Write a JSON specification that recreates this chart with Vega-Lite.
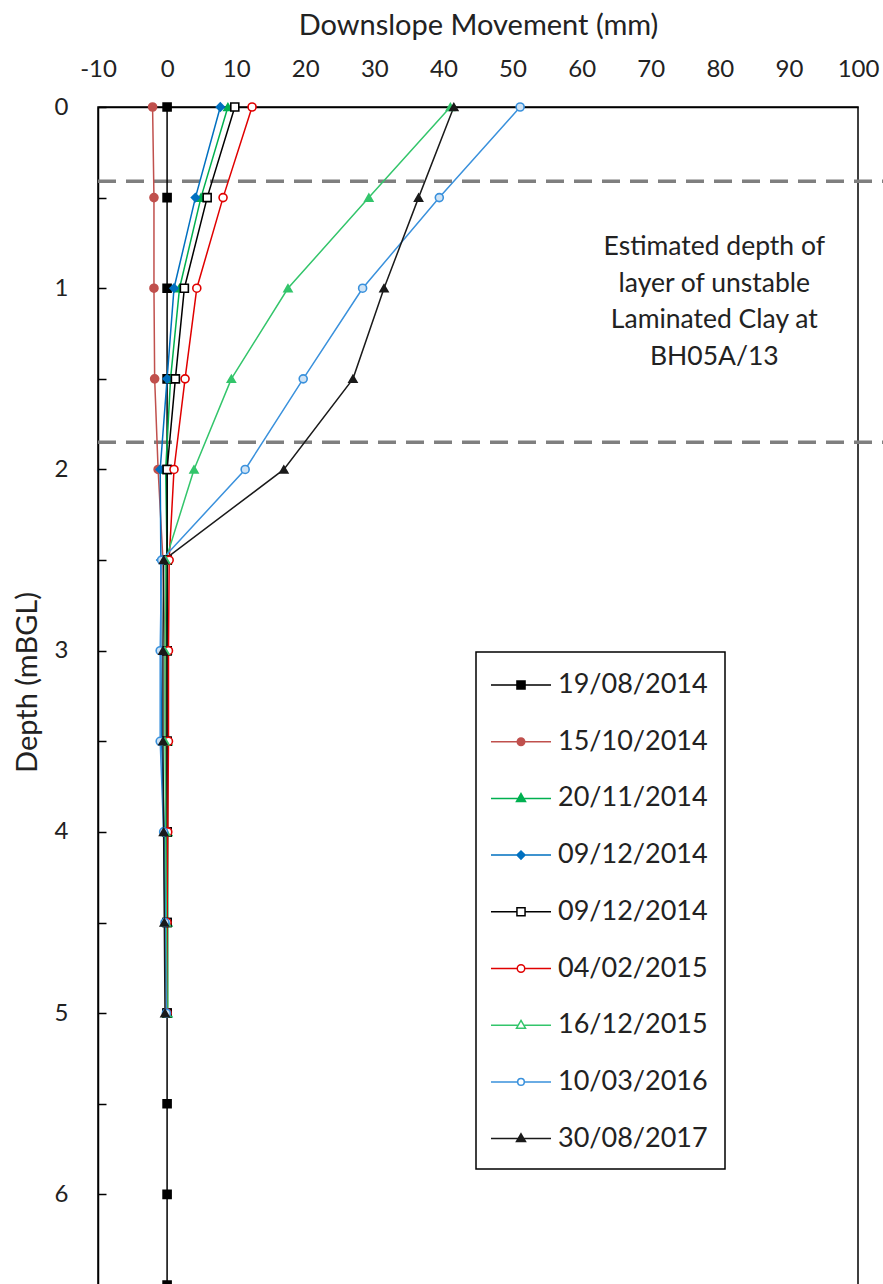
{
  "$schema": "https://vega.github.io/schema/vega-lite/v6.json",
  "autosize": {"type": "none"},
  "padding": {"left": 98, "top": 107, "right": 25, "bottom": 0},
  "width": 760,
  "height": 1178,
  "config": {
    "font": "Lato",
    "view": {"stroke": "#000000", "strokeWidth": 1.5},
    "axis": {"grid": false, "domainColor": "#000000", "domainWidth": 1.5, "tickColor": "#000000", "tickWidth": 1.5, "labelColor": "#222222", "titleColor": "#222222", "labelFont": "Lato", "titleFont": "Lato", "titleFontWeight": "normal"},
    "legend": {"padding": 17, "symbolSize": 900, "symbolStrokeWidth": 1.5, "symbolOffset": 12, "labelOffset": 21, "labelFontSize": 27, "labelColor": "#222222", "labelFont": "Lato", "strokeColor": "#000000", "strokeWidth": 1.5, "fillColor": "#ffffff", "rowPadding": 27.7, "symbolOpacity": 1, "labelLimit": 400}
  },
  "datasets": {
    "prof": [
      {"series": "19/08/2014", "depth": 0, "mm": 0},
      {"series": "19/08/2014", "depth": 0.5, "mm": 0},
      {"series": "19/08/2014", "depth": 1, "mm": 0},
      {"series": "19/08/2014", "depth": 1.5, "mm": 0},
      {"series": "19/08/2014", "depth": 2, "mm": 0},
      {"series": "19/08/2014", "depth": 2.5, "mm": 0},
      {"series": "19/08/2014", "depth": 3, "mm": 0},
      {"series": "19/08/2014", "depth": 3.5, "mm": 0},
      {"series": "19/08/2014", "depth": 4, "mm": 0},
      {"series": "19/08/2014", "depth": 4.5, "mm": 0},
      {"series": "19/08/2014", "depth": 5, "mm": 0},
      {"series": "19/08/2014", "depth": 5.5, "mm": 0},
      {"series": "19/08/2014", "depth": 6, "mm": 0},
      {"series": "19/08/2014", "depth": 6.5, "mm": 0},
      {"series": "15/10/2014", "depth": 0, "mm": -2.1},
      {"series": "15/10/2014", "depth": 0.5, "mm": -1.9},
      {"series": "15/10/2014", "depth": 1, "mm": -1.9},
      {"series": "15/10/2014", "depth": 1.5, "mm": -1.8},
      {"series": "15/10/2014", "depth": 2, "mm": -1.3},
      {"series": "15/10/2014", "depth": 2.5, "mm": -0.6},
      {"series": "15/10/2014", "depth": 3, "mm": -0.3},
      {"series": "15/10/2014", "depth": 3.5, "mm": -0.2},
      {"series": "15/10/2014", "depth": 4, "mm": -0.1},
      {"series": "15/10/2014", "depth": 4.5, "mm": -0.1},
      {"series": "15/10/2014", "depth": 5, "mm": 0},
      {"series": "20/11/2014", "depth": 0, "mm": 8.8},
      {"series": "20/11/2014", "depth": 0.5, "mm": 4.9},
      {"series": "20/11/2014", "depth": 1, "mm": 1.8},
      {"series": "20/11/2014", "depth": 1.5, "mm": 0.5},
      {"series": "20/11/2014", "depth": 2, "mm": -0.2},
      {"series": "20/11/2014", "depth": 2.5, "mm": 0},
      {"series": "20/11/2014", "depth": 3, "mm": 0},
      {"series": "20/11/2014", "depth": 3.5, "mm": 0.1},
      {"series": "20/11/2014", "depth": 4, "mm": 0.1},
      {"series": "20/11/2014", "depth": 4.5, "mm": 0.1},
      {"series": "20/11/2014", "depth": 5, "mm": 0.1},
      {"series": "09/12/2014 #1", "depth": 0, "mm": 7.7},
      {"series": "09/12/2014 #1", "depth": 0.5, "mm": 4.1},
      {"series": "09/12/2014 #1", "depth": 1, "mm": 1.0},
      {"series": "09/12/2014 #1", "depth": 1.5, "mm": 0.0},
      {"series": "09/12/2014 #1", "depth": 2, "mm": -1.0},
      {"series": "09/12/2014 #1", "depth": 2.5, "mm": -0.9},
      {"series": "09/12/2014 #1", "depth": 3, "mm": -0.9},
      {"series": "09/12/2014 #1", "depth": 3.5, "mm": -0.8},
      {"series": "09/12/2014 #1", "depth": 4, "mm": -0.4},
      {"series": "09/12/2014 #1", "depth": 4.5, "mm": -0.2},
      {"series": "09/12/2014 #1", "depth": 5, "mm": 0},
      {"series": "09/12/2014 #2", "depth": 0, "mm": 9.8},
      {"series": "09/12/2014 #2", "depth": 0.5, "mm": 5.8},
      {"series": "09/12/2014 #2", "depth": 1, "mm": 2.5},
      {"series": "09/12/2014 #2", "depth": 1.5, "mm": 1.2},
      {"series": "09/12/2014 #2", "depth": 2, "mm": 0.0},
      {"series": "09/12/2014 #2", "depth": 2.5, "mm": 0},
      {"series": "09/12/2014 #2", "depth": 3, "mm": 0},
      {"series": "09/12/2014 #2", "depth": 3.5, "mm": 0},
      {"series": "09/12/2014 #2", "depth": 4, "mm": 0},
      {"series": "09/12/2014 #2", "depth": 4.5, "mm": 0},
      {"series": "09/12/2014 #2", "depth": 5, "mm": 0},
      {"series": "04/02/2015", "depth": 0, "mm": 12.3},
      {"series": "04/02/2015", "depth": 0.5, "mm": 8.1},
      {"series": "04/02/2015", "depth": 1, "mm": 4.3},
      {"series": "04/02/2015", "depth": 1.5, "mm": 2.6},
      {"series": "04/02/2015", "depth": 2, "mm": 1.0},
      {"series": "04/02/2015", "depth": 2.5, "mm": 0.3},
      {"series": "04/02/2015", "depth": 3, "mm": 0.2},
      {"series": "04/02/2015", "depth": 3.5, "mm": 0.2},
      {"series": "04/02/2015", "depth": 4, "mm": 0.1},
      {"series": "04/02/2015", "depth": 4.5, "mm": 0},
      {"series": "04/02/2015", "depth": 5, "mm": 0},
      {"series": "16/12/2015", "depth": 0, "mm": 41.0},
      {"series": "16/12/2015", "depth": 0.5, "mm": 29.2},
      {"series": "16/12/2015", "depth": 1, "mm": 17.5},
      {"series": "16/12/2015", "depth": 1.5, "mm": 9.3},
      {"series": "16/12/2015", "depth": 2, "mm": 3.9},
      {"series": "16/12/2015", "depth": 2.5, "mm": -0.2},
      {"series": "16/12/2015", "depth": 3, "mm": -0.3},
      {"series": "16/12/2015", "depth": 3.5, "mm": -0.3},
      {"series": "16/12/2015", "depth": 4, "mm": -0.2},
      {"series": "16/12/2015", "depth": 4.5, "mm": -0.1},
      {"series": "16/12/2015", "depth": 5, "mm": 0},
      {"series": "10/03/2016", "depth": 0, "mm": 51.1},
      {"series": "10/03/2016", "depth": 0.5, "mm": 39.4},
      {"series": "10/03/2016", "depth": 1, "mm": 28.3},
      {"series": "10/03/2016", "depth": 1.5, "mm": 19.7},
      {"series": "10/03/2016", "depth": 2, "mm": 11.3},
      {"series": "10/03/2016", "depth": 2.5, "mm": -0.8},
      {"series": "10/03/2016", "depth": 3, "mm": -1.0},
      {"series": "10/03/2016", "depth": 3.5, "mm": -1.0},
      {"series": "10/03/2016", "depth": 4, "mm": -0.5},
      {"series": "10/03/2016", "depth": 4.5, "mm": -0.3},
      {"series": "10/03/2016", "depth": 5, "mm": -0.1},
      {"series": "30/08/2017", "depth": 0, "mm": 41.5},
      {"series": "30/08/2017", "depth": 0.5, "mm": 36.4},
      {"series": "30/08/2017", "depth": 1, "mm": 31.4},
      {"series": "30/08/2017", "depth": 1.5, "mm": 26.9},
      {"series": "30/08/2017", "depth": 2, "mm": 16.9},
      {"series": "30/08/2017", "depth": 2.5, "mm": -0.5},
      {"series": "30/08/2017", "depth": 3, "mm": -0.6},
      {"series": "30/08/2017", "depth": 3.5, "mm": -0.6},
      {"series": "30/08/2017", "depth": 4, "mm": -0.5},
      {"series": "30/08/2017", "depth": 4.5, "mm": -0.4},
      {"series": "30/08/2017", "depth": 5, "mm": -0.3}
    ]
  },
  "resolve": {"scale": {"color": "independent", "shape": "independent"}},
  "layer": [
    {
      "data": {"values": [{"depth": 0.41}, {"depth": 1.85}]},
      "mark": {"type": "rule", "strokeDash": [18, 10], "strokeWidth": 3.5, "color": "#7f7f7f"},
      "encoding": {
        "y": {"field": "depth", "type": "quantitative"},
        "x": {"datum": -10, "type": "quantitative"},
        "x2": {"datum": 104}
      }
    },
    {
      "data": {"name": "prof"},
      "mark": {"type": "line", "strokeWidth": 1.5},
      "encoding": {
        "x": {"field": "mm", "type": "quantitative",
          "scale": {"domain": [-10, 100], "nice": false, "zero": false},
          "axis": {"orient": "top", "title": "Downslope Movement (mm)",
            "values": [-10, -5, 0, 5, 10, 15, 20, 25, 30, 35, 40, 45, 50, 55, 60, 65, 70, 75, 80, 85, 90, 95, 100],
            "labelExpr": "datum.value % 10 === 0 ? '' + datum.value : ''",
            "tickOpacity": {"condition": {"test": "datum.value % 10 === 0", "value": 0}, "value": 1},
            "tickSize": -8, "labelFontSize": 24, "labelPadding": 39, "labelBaseline": "alphabetic",
            "labelOverlap": false, "labelFlush": false,
            "titleFontSize": 29, "titleX": 380, "titleY": -73, "titleBaseline": "alphabetic", "titleAnchor": "middle"}},
        "y": {"field": "depth", "type": "quantitative",
          "scale": {"domain": [0, 6.5], "reverse": true, "nice": false, "zero": false},
          "axis": {"title": "Depth (mBGL)",
            "values": [0, 0.5, 1, 1.5, 2, 2.5, 3, 3.5, 4, 4.5, 5, 5.5, 6, 6.5],
            "labelExpr": "datum.value % 1 === 0 ? '' + datum.value : ''",
            "tickSize": -8, "labelFontSize": 24, "labelPadding": 38, "labelOverlap": false, "labelFlush": false,
            "titleFontSize": 29, "titleX": -56, "titleY": 575, "titleBaseline": "bottom", "titleAngle": 270}},
        "color": {"field": "series", "type": "nominal",
          "scale": {"domain": ["19/08/2014", "15/10/2014", "20/11/2014", "09/12/2014 #1", "09/12/2014 #2", "04/02/2015", "16/12/2015", "10/03/2016", "30/08/2017"],
            "range": ["#000000", "#C0504D", "#00B050", "#0070C0", "#000000", "#E00000", "#33C56B", "#3A91DC", "#1a1a1a"]},
          "legend": null},
        "order": {"field": "depth", "type": "quantitative"}
      }
    },
    {
      "data": {"name": "prof"},
      "mark": {"type": "point", "filled": true, "size": 64, "strokeWidth": 1.6, "opacity": 1},
      "encoding": {
        "x": {"field": "mm", "type": "quantitative"},
        "y": {"field": "depth", "type": "quantitative"},
        "shape": {"field": "series", "type": "nominal",
          "scale": {"domain": ["19/08/2014", "15/10/2014", "20/11/2014", "09/12/2014 #1", "09/12/2014 #2", "04/02/2015", "16/12/2015", "10/03/2016", "30/08/2017"],
            "range": ["square", "circle", "triangle-up", "diamond", "square", "circle", "triangle-up", "circle", "triangle-up"]},
          "legend": null},
        "stroke": {"field": "series", "type": "nominal",
          "scale": {"domain": ["19/08/2014", "15/10/2014", "20/11/2014", "09/12/2014 #1", "09/12/2014 #2", "04/02/2015", "16/12/2015", "10/03/2016", "30/08/2017"],
            "range": ["#000000", "#C0504D", "#00B050", "#0070C0", "#000000", "#E00000", "#33C56B", "#3A91DC", "#1a1a1a"]},
          "legend": null},
        "fill": {"field": "series", "type": "nominal",
          "scale": {"domain": ["19/08/2014", "15/10/2014", "20/11/2014", "09/12/2014 #1", "09/12/2014 #2", "04/02/2015", "16/12/2015", "10/03/2016", "30/08/2017"],
            "range": ["#000000", "#C0504D", "#00B050", "#0070C0", "#ffffff", "#ffffff", "#33C56B", "#cfe3f5", "#1a1a1a"]},
          "legend": null}
      }
    },
    {
      "data": {"name": "prof"},
      "mark": {"type": "point", "filled": false, "opacity": 0, "strokeWidth": 1.5},
      "encoding": {
        "x": {"field": "mm", "type": "quantitative"},
        "y": {"field": "depth", "type": "quantitative"},
        "color": {"field": "series", "type": "nominal",
          "scale": {"domain": ["19/08/2014", "15/10/2014", "20/11/2014", "09/12/2014 #1", "09/12/2014 #2", "04/02/2015", "16/12/2015", "10/03/2016", "30/08/2017"],
            "range": ["#000000", "#C0504D", "#00B050", "#0070C0", "#000000", "#E00000", "#33C56B", "#3A91DC", "#1a1a1a"]},
          "legend": {"title": null, "orient": "none", "legendX": 378, "legendY": 545, "labelExpr": "slice(datum.label, 0, 10)"}},
        "shape": {"field": "series", "type": "nominal",
          "scale": {"domain": ["19/08/2014", "15/10/2014", "20/11/2014", "09/12/2014 #1", "09/12/2014 #2", "04/02/2015", "16/12/2015", "10/03/2016", "30/08/2017"],
            "range": [
              "M-2,0H2M-0.27,-0.27H0.27V0.27H-0.27ZM-0.19,-0.19H0.19V0.19H-0.19ZM-0.11,-0.11H0.11V0.11H-0.11ZM-0.03,-0.03H0.03V0.03H-0.03Z",
              "M-2,0H2M-0.25,0A0.25,0.25,0,1,0,0.25,0A0.25,0.25,0,1,0,-0.25,0ZM-0.17,0A0.17,0.17,0,1,0,0.17,0A0.17,0.17,0,1,0,-0.17,0ZM-0.09,0A0.09,0.09,0,1,0,0.09,0A0.09,0.09,0,1,0,-0.09,0Z",
              "M-2,0H2M0,-0.32L0.3,0.2L-0.3,0.2ZM0,-0.19L0.18,0.12L-0.18,0.12ZM0,-0.08L0.075,0.05L-0.075,0.05Z",
              "M-2,0H2M0,-0.27L0.27,0L0,0.27L-0.27,0ZM0,-0.17L0.17,0L0,0.17L-0.17,0ZM0,-0.07L0.07,0L0,0.07L-0.07,0Z",
              "M-2,0H-0.27M0.27,0H2M-0.27,-0.27H0.27V0.27H-0.27Z",
              "M-2,0H-0.25M0.25,0H2M-0.25,0A0.25,0.25,0,1,0,0.25,0A0.25,0.25,0,1,0,-0.25,0Z",
              "M-2,0H-0.185M0.185,0H2M0,-0.32L0.3,0.2L-0.3,0.2Z",
              "M-2,0H-0.22M0.22,0H2M-0.22,0A0.22,0.22,0,1,0,0.22,0A0.22,0.22,0,1,0,-0.22,0Z",
              "M-2,0H2M0,-0.32L0.3,0.2L-0.3,0.2ZM0,-0.19L0.18,0.12L-0.18,0.12ZM0,-0.08L0.075,0.05L-0.075,0.05Z"
            ]},
          "legend": {"title": null, "orient": "none", "legendX": 378, "legendY": 545, "labelExpr": "slice(datum.label, 0, 10)"}}
      }
    },
    {
      "data": {"values": [{"note": "Estimated depth of\nlayer of unstable\nLaminated Clay at\nBH05A/13", "mm": 79.2, "depth": 0.773}]},
      "mark": {"type": "text", "fontSize": 26.5, "lineHeight": 36.7, "lineBreak": "\n", "align": "center", "baseline": "middle", "color": "#222222", "font": "Lato"},
      "encoding": {
        "x": {"field": "mm", "type": "quantitative"},
        "y": {"field": "depth", "type": "quantitative"},
        "text": {"field": "note"}
      }
    }
  ]
}
